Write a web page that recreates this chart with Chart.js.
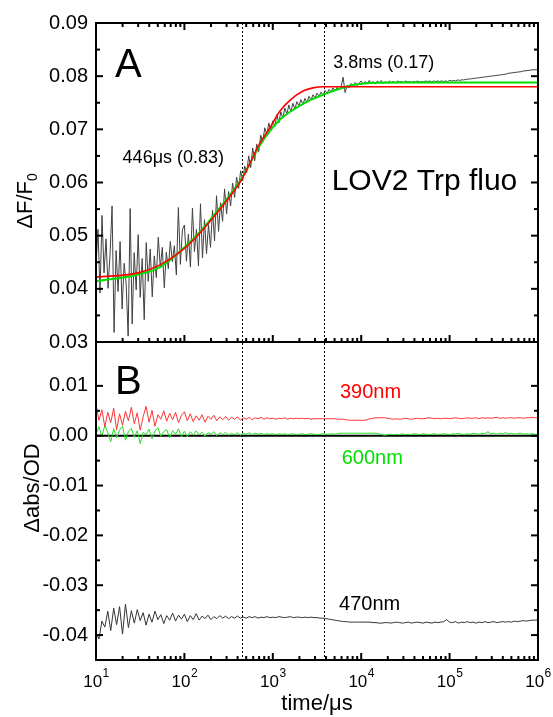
<!DOCTYPE html>
<html>
<head>
<meta charset="utf-8">
<script src="https://cdn.jsdelivr.net/npm/chart.js@4.4.1/dist/chart.umd.min.js"></script>
<style>
  html, body { margin: 0; padding: 0; background: #fff; }
  #wrap { width: 553px; height: 717px; }
</style>
</head>
<body>
<div id="wrap"><canvas id="chart" width="553" height="717"></canvas></div>
<script>
var FONT = "'Liberation Sans', Arial, Helvetica, sans-serif";

/* Panel A: Trp fluorescence dF/F0, log-spaced samples from 10 us to 1 s */
var fluoRaw = [
  0.0445, 0.0512, 0.0392, 0.0538, 0.0430, 0.0494, 0.0401, 0.0466, 0.0556, 0.0318,
  0.0472, 0.0395, 0.0489, 0.0362, 0.0448, 0.0410, 0.0311, 0.0551, 0.0334, 0.0468,
  0.0398, 0.0502, 0.0384, 0.0457, 0.0342, 0.0487, 0.0414, 0.0475, 0.0385, 0.0462,
  0.0421, 0.0497, 0.0440, 0.0478, 0.0402, 0.0469, 0.0438, 0.0489, 0.0451, 0.0481,
  0.0426, 0.0553, 0.0446, 0.0511,
  0.0520, 0.0452, 0.0503, 0.0441, 0.0552, 0.0470, 0.0512, 0.0443, 0.0560, 0.0458,
  0.0530, 0.0466, 0.0521, 0.0478, 0.0548, 0.0490, 0.0575, 0.0508, 0.0562, 0.0527,
  0.0588, 0.0541, 0.0583, 0.0556, 0.0599, 0.0572, 0.0610, 0.0589, 0.0622, 0.0603,
  0.0631, 0.0618, 0.0650, 0.0628, 0.0665, 0.0641, 0.0672, 0.0658, 0.0689, 0.0676,
  0.0703, 0.0690, 0.0712, 0.0698,
  0.0716, 0.0705, 0.0728, 0.0712, 0.0733, 0.0721, 0.0740, 0.0728, 0.0746, 0.0733,
  0.0749, 0.0738, 0.0752, 0.0744, 0.0756, 0.0747, 0.0758, 0.0751, 0.0762, 0.0755,
  0.0765, 0.0759, 0.0768, 0.0762, 0.0770, 0.0764, 0.0773, 0.0768, 0.0775, 0.0771,
  0.0778, 0.0772, 0.0779, 0.0774, 0.0780, 0.0798, 0.0769, 0.0783, 0.0778, 0.0786,
  0.0780, 0.0788, 0.0782, 0.0787,
  0.0791, 0.0785, 0.0790, 0.0786, 0.0792, 0.0787, 0.0790, 0.0785, 0.0791, 0.0788,
  0.0792, 0.0786, 0.0790, 0.0787, 0.0791, 0.0788, 0.0790, 0.0787, 0.0791, 0.0789,
  0.0790, 0.0788, 0.0791, 0.0789, 0.0790, 0.0788, 0.0790, 0.0789, 0.0791, 0.0789,
  0.0790, 0.0789, 0.0791, 0.0790, 0.0791, 0.0789, 0.0791, 0.0790, 0.0791, 0.0790,
  0.0791, 0.0790, 0.0791, 0.0790, 0.0792, 0.0791, 0.0792, 0.0791, 0.0793, 0.0792,
  0.0793, 0.0793, 0.0794, 0.0794, 0.0795, 0.0795, 0.0796, 0.0796, 0.0797, 0.0797,
  0.0798, 0.0798, 0.0799, 0.0799, 0.0800, 0.0800, 0.0801, 0.0801, 0.0802, 0.0802,
  0.0803, 0.0803, 0.0804, 0.0805, 0.0806, 0.0806, 0.0807, 0.0807, 0.0808, 0.0808,
  0.0809, 0.0810, 0.0810, 0.0811, 0.0811, 0.0812, 0.0812, 0.0812, 0.0812
];

/* single-exponential fit (red) */
var fitOneT = [10, 30, 53, 100, 150, 232, 357, 446, 716, 930, 1200, 1570, 2200, 2850, 3700, 1000000];
var fitOneY = [0.0422, 0.0430, 0.0445, 0.0476, 0.0505, 0.0542, 0.0582, 0.0606, 0.0674, 0.0703, 0.0734, 0.0755, 0.0772, 0.0778, 0.0780, 0.0780];

/* bi-exponential fit (green) */
var fitTwoT = [10, 30, 53, 100, 150, 232, 357, 446, 716, 930, 1200, 1570, 2640, 3700, 7460, 12600, 25000, 1000000];
var fitTwoY = [0.0414, 0.0427, 0.0441, 0.0478, 0.0507, 0.0545, 0.0585, 0.0608, 0.0670, 0.0697, 0.0718, 0.0733, 0.0755, 0.0765, 0.0782, 0.0787, 0.0788, 0.0788];

/* Panel B: absorption transients, log-spaced samples from 10 us to 1 s */
var abs390 = [
  0.0062, 0.0031, 0.0052, 0.0018, 0.0047, 0.0026, 0.0055, 0.0012, 0.0044, 0.0021,
  0.0049, 0.0030, 0.0057, 0.0024, 0.0046, 0.0011, 0.0038, 0.0059, 0.0027, 0.0051,
  0.0019, 0.0042, 0.0033, 0.0050, 0.0029, 0.0045, 0.0032, 0.0047, 0.0026, 0.0041,
  0.0048, 0.0030, 0.0044, 0.0028, 0.0040, 0.0031, 0.0042, 0.0027, 0.0039, 0.0033,
  0.0041, 0.0030, 0.0038, 0.0032, 0.0039, 0.0031, 0.0037, 0.0033, 0.0038, 0.0031,
  0.0036, 0.0033, 0.0037, 0.0032, 0.0036, 0.0034, 0.0037, 0.0033, 0.0036, 0.0034,
  0.0035, 0.0033, 0.0035, 0.0034, 0.0036, 0.0033, 0.0035, 0.0034, 0.0035, 0.0034,
  0.0035, 0.0034, 0.0035, 0.0033, 0.0034, 0.0034, 0.0034, 0.0034, 0.0034, 0.0034,
  0.0034, 0.0034, 0.0033, 0.0033, 0.0033, 0.0032, 0.0031, 0.0031, 0.0031, 0.0031,
  0.0031, 0.0031, 0.0032, 0.0034, 0.0035, 0.0036, 0.0036, 0.0036, 0.0036, 0.0035,
  0.0034, 0.0033, 0.0034, 0.0033, 0.0034, 0.0035, 0.0034, 0.0033, 0.0034, 0.0035,
  0.0034, 0.0034, 0.0035, 0.0036, 0.0035, 0.0034, 0.0035, 0.0034, 0.0035, 0.0035,
  0.0034, 0.0035, 0.0036, 0.0035, 0.0034, 0.0035, 0.0036, 0.0035, 0.0035, 0.0036,
  0.0034, 0.0036, 0.0035, 0.0036, 0.0035, 0.0036, 0.0037, 0.0035, 0.0036, 0.0035,
  0.0036, 0.0036, 0.0035, 0.0036, 0.0036, 0.0035, 0.0036, 0.0036, 0.0037, 0.0036,
  0.0036
];
var abs600 = [
  0.0003, 0.0018, -0.0002, 0.0021, 0.0006, -0.0012, 0.0014, -0.0004, 0.0011, 0.0019,
  -0.0009, 0.0008, 0.0015, -0.0003, 0.0010, -0.0016, 0.0007, 0.0002, 0.0013, -0.0006,
  0.0009, 0.0016, -0.0001, 0.0008, 0.0012, -0.0004, 0.0010, 0.0003, 0.0014, -0.0002,
  0.0009, -0.0002, 0.0008, 0.0001, 0.0010, 0.0002, 0.0007, -0.0001, 0.0006, 0.0003,
  0.0008, 0.0000, 0.0006, 0.0002, 0.0007, 0.0001, 0.0005, 0.0002, 0.0006, 0.0001,
  0.0005, 0.0003, 0.0006, 0.0002, 0.0005, 0.0003, 0.0005, 0.0002, 0.0004, 0.0003,
  0.0004, 0.0002, 0.0004, 0.0003, 0.0004, 0.0002, 0.0003, 0.0004, 0.0002, 0.0003,
  0.0004, 0.0002, 0.0003, 0.0004, 0.0003, 0.0002, 0.0003, 0.0004, 0.0003, 0.0003,
  0.0004, 0.0003, 0.0004, 0.0005, 0.0005, 0.0005, 0.0005, 0.0005, 0.0005, 0.0005,
  0.0005, 0.0005, 0.0005, 0.0005, 0.0005, 0.0005, 0.0004, 0.0002, 0.0001, 0.0002,
  0.0003, 0.0002, 0.0003, 0.0002, 0.0004, 0.0002, 0.0003, 0.0002, 0.0004, 0.0003,
  0.0002, 0.0004, 0.0003, 0.0002, 0.0003, 0.0004, 0.0002, 0.0003, 0.0004, 0.0003,
  0.0002, 0.0004, 0.0003, 0.0005, 0.0003, 0.0002, 0.0004, 0.0003, 0.0005, 0.0004,
  0.0003, 0.0005, 0.0004, 0.0008, 0.0004, 0.0005, 0.0003, 0.0005, 0.0004, 0.0006,
  0.0004, 0.0005, 0.0003, 0.0004, 0.0005, 0.0003, 0.0004, 0.0003, 0.0004, 0.0003,
  0.0003
];
var abs470 = [
  -0.0395, -0.0408, -0.0372, -0.0384, -0.0352, -0.0391, -0.0346, -0.0379, -0.0343, -0.0398,
  -0.0338, -0.0385, -0.0351, -0.0376, -0.0349, -0.0371, -0.0355, -0.0380, -0.0358, -0.0374,
  -0.0352, -0.0369, -0.0359, -0.0377, -0.0361, -0.0370, -0.0356, -0.0372, -0.0360, -0.0368,
  -0.0358, -0.0373, -0.0361, -0.0369, -0.0357, -0.0370, -0.0362, -0.0367, -0.0360, -0.0369,
  -0.0363, -0.0367, -0.0361, -0.0366, -0.0362, -0.0367, -0.0363, -0.0366, -0.0362, -0.0366,
  -0.0364, -0.0366, -0.0363, -0.0365, -0.0363, -0.0366, -0.0364, -0.0365, -0.0363, -0.0365,
  -0.0364, -0.0365, -0.0363, -0.0364, -0.0365, -0.0364, -0.0363, -0.0365, -0.0364, -0.0364,
  -0.0365, -0.0364, -0.0365, -0.0364, -0.0365, -0.0365, -0.0366, -0.0366, -0.0367, -0.0368,
  -0.0369, -0.0370, -0.0371, -0.0372, -0.0373, -0.0373, -0.0374, -0.0374, -0.0374, -0.0374,
  -0.0374, -0.0374, -0.0374, -0.0374, -0.0375, -0.0375, -0.0376, -0.0376, -0.0375, -0.0375,
  -0.0376, -0.0375, -0.0374, -0.0375, -0.0376, -0.0375, -0.0374, -0.0376, -0.0375, -0.0374,
  -0.0375, -0.0376, -0.0374, -0.0375, -0.0376, -0.0374, -0.0375, -0.0374, -0.0373, -0.0369,
  -0.0374, -0.0375, -0.0373, -0.0376, -0.0374, -0.0375, -0.0373, -0.0375, -0.0374, -0.0376,
  -0.0374, -0.0375, -0.0373, -0.0375, -0.0374, -0.0373, -0.0375, -0.0374, -0.0373, -0.0374,
  -0.0373, -0.0374, -0.0372, -0.0373, -0.0372, -0.0371, -0.0372, -0.0371, -0.0370, -0.0370,
  -0.0370
];

/* time constants marked with dotted lines (us) */
var tauMarks = [446, 3800];
/* decade exponents for the time axis labels */
var decades = [1, 2, 3, 4, 5, 6];

/* text placed in data coordinates */
var notesA = [
  { text: 'A', t: 16.4, v: 0.0798, size: 40, color: '#000' },
  { text: '446\u03bcs (0.83)', t: 20, v: 0.0636, size: 18, color: '#000' },
  { text: '3.8ms (0.17)', t: 4830, v: 0.0815, size: 18, color: '#000' },
  { text: 'LOV2 Trp fluo', t: 4630, v: 0.0586, size: 30, color: '#000' }
];
var notesB = [
  { text: 'B', t: 16.4, v: 0.0083, size: 40, color: '#000' },
  { text: '390nm', t: 5750, v: 0.0076, size: 20, color: '#ff0000' },
  { text: '600nm', t: 6010, v: -0.0056, size: 20, color: '#00e000' },
  { text: '470nm', t: 5610, v: -0.0349, size: 20, color: '#000' }
];

/* sampling times of a recorded trace, evenly spaced on the log axis */
function logTimes(n) {
  var out = [];
  for (var i = 0; i < n; i++) out.push(Math.pow(10, 1 + 5 * i / (n - 1)));
  return out;
}
function pairs(ts, ys) {
  return ys.map(function (y, i) { return { x: ts[i], y: y }; });
}
function trace(ys) { return pairs(logTimes(ys.length), ys); }

function onStep(v, step) {
  var r = v / step;
  return Math.abs(r - Math.round(r)) < 1e-6;
}
function tickLabel(v) {
  if (!onStep(v, 0.01)) return '';
  if (Math.abs(v) < 1e-9) return '0.00';
  return v.toFixed(2);
}

function drawLine(ctx, x1, y1, x2, y2) {
  ctx.beginPath();
  ctx.moveTo(x1, y1);
  ctx.lineTo(x2, y2);
  ctx.stroke();
}

/* ---- frame, inward ticks, reference lines and labels ---- */
var framePlugin = {
  id: 'frame',
  beforeDatasetsDraw: function (chart) {
    var ctx = chart.ctx, a = chart.chartArea, sx = chart.scales.x, yB = chart.scales.yB;
    ctx.save();
    // zero line in panel B
    ctx.strokeStyle = '#000';
    ctx.lineWidth = 2;
    var y0 = yB.getPixelForValue(0);
    drawLine(ctx, a.left, y0, a.right, y0);
    // dotted lines at the two time constants
    ctx.lineWidth = 1;
    ctx.setLineDash([2, 2]);
    tauMarks.forEach(function (t) {
      var x = Math.round(sx.getPixelForValue(t)) + 0.5;
      drawLine(ctx, x, a.top, x, a.bottom);
    });
    ctx.restore();
  },
  afterDatasetsDraw: function (chart) {
    var ctx = chart.ctx, a = chart.chartArea;
    var sx = chart.scales.x, yA = chart.scales.yA, yB = chart.scales.yB;
    ctx.save();
    ctx.strokeStyle = '#000';
    ctx.lineWidth = 2;
    ctx.strokeRect(a.left, a.top, a.right - a.left, a.bottom - a.top);
    drawLine(ctx, a.left, yA.bottom, a.right, yA.bottom);

    // y ticks on both sides, pointing in
    [yA, yB].forEach(function (s) {
      s.ticks.forEach(function (t) {
        if (!onStep(t.value, 0.005)) return;
        var len = onStep(t.value, 0.01) ? 7 : 4;
        var y = s.getPixelForValue(t.value);
        drawLine(ctx, a.left, y, a.left + len, y);
        drawLine(ctx, a.right, y, a.right - len, y);
      });
    });

    // log ticks: top of A pointing down, bottom of A and B pointing up
    decades.forEach(function (d) {
      for (var k = 1; k <= 9; k++) {
        if (d === 6 && k > 1) break;
        var x = sx.getPixelForValue(k * Math.pow(10, d));
        var len = k === 1 ? 7 : 4;
        drawLine(ctx, x, a.top, x, a.top + len);
        drawLine(ctx, x, yA.bottom, x, yA.bottom - len);
        drawLine(ctx, x, a.bottom, x, a.bottom - len);
      }
    });
    ctx.restore();
  },
  afterDraw: function (chart) {
    var ctx = chart.ctx, a = chart.chartArea;
    var sx = chart.scales.x, yA = chart.scales.yA, yB = chart.scales.yB;
    ctx.save();
    ctx.textBaseline = 'alphabetic';
    ctx.textAlign = 'left';

    function note(n, s) {
      ctx.font = n.size + 'px ' + FONT;
      ctx.fillStyle = n.color;
      ctx.fillText(n.text, sx.getPixelForValue(n.t), s.getPixelForValue(n.v));
    }
    notesA.forEach(function (n) { note(n, yA); });
    notesB.forEach(function (n) { note(n, yB); });

    // 10^n labels under the time axis
    ctx.fillStyle = '#000';
    decades.forEach(function (d) {
      var x = sx.getPixelForValue(Math.pow(10, d));
      ctx.font = '17px ' + FONT;
      var wBase = ctx.measureText('10').width;
      ctx.font = '12px ' + FONT;
      var wExp = ctx.measureText(String(d)).width;
      var x0 = x - (wBase + wExp) / 2;
      ctx.font = '17px ' + FONT;
      ctx.fillText('10', x0, a.bottom + 27);
      ctx.font = '12px ' + FONT;
      ctx.fillText(String(d), x0 + wBase + 0.5, a.bottom + 17);
    });

    // x title
    ctx.font = '22px ' + FONT;
    ctx.textAlign = 'center';
    ctx.fillText('time/\u03bcs', (a.left + a.right) / 2, 710);

    // y titles, rotated
    ctx.save();
    ctx.translate(32, 201);
    ctx.rotate(-Math.PI / 2);
    ctx.textAlign = 'left';
    ctx.font = '22px ' + FONT;
    var wMain = ctx.measureText('\u0394F/F').width;
    ctx.font = '14px ' + FONT;
    var wSub = ctx.measureText('0').width;
    var start = -(wMain + wSub) / 2;
    ctx.font = '22px ' + FONT;
    ctx.fillText('\u0394F/F', start, 0);
    ctx.font = '14px ' + FONT;
    ctx.fillText('0', start + wMain, 5);
    ctx.restore();

    ctx.save();
    ctx.translate(39, 488);
    ctx.rotate(-Math.PI / 2);
    ctx.textAlign = 'center';
    ctx.font = '22px ' + FONT;
    ctx.fillText('\u0394abs/OD', 0, 0);
    ctx.restore();

    ctx.restore();
  }
};

function yScale(min, max, weight) {
  return {
    type: 'linear',
    position: 'left',
    stack: 'panels',
    stackWeight: weight,
    min: min,
    max: max,
    grid: { display: false, drawTicks: false },
    border: { display: false },
    ticks: {
      stepSize: 0.005,
      autoSkip: false,
      padding: 8,
      color: '#000',
      font: { family: FONT, size: 20 },
      callback: tickLabel
    },
    afterFit: function (s) { s.width = 96; }
  };
}

new Chart(document.getElementById('chart'), {
  type: 'line',
  data: {
    datasets: [
      { data: pairs(fitOneT, fitOneY), yAxisID: 'yA', borderColor: '#ff0000', borderWidth: 1.6, cubicInterpolationMode: 'monotone', order: 1 },
      { data: pairs(fitTwoT, fitTwoY), yAxisID: 'yA', borderColor: '#00e000', borderWidth: 2, cubicInterpolationMode: 'monotone', order: 2 },
      { data: trace(fluoRaw), yAxisID: 'yA', borderColor: '#404040', borderWidth: 1, order: 3 },
      { data: trace(abs390), yAxisID: 'yB', borderColor: '#ff3333', borderWidth: 1, order: 4 },
      { data: trace(abs600), yAxisID: 'yB', borderColor: '#22e022', borderWidth: 1, order: 5 },
      { data: trace(abs470), yAxisID: 'yB', borderColor: '#333333', borderWidth: 1, order: 6 }
    ]
  },
  options: {
    responsive: false,
    animation: false,
    devicePixelRatio: 1,
    layout: { padding: { left: 0, right: 15, top: 23, bottom: 0 } },
    elements: { point: { radius: 0 }, line: { tension: 0 } },
    plugins: { legend: { display: false }, tooltip: { enabled: false } },
    scales: {
      x: {
        type: 'logarithmic',
        position: 'bottom',
        min: 10,
        max: 1000000,
        grid: { display: false, drawTicks: false },
        border: { display: false },
        ticks: { display: false },
        afterFit: function (s) { s.height = 57; }
      },
      // the later-listed left axis is stacked on top
      yB: yScale(-0.045, 0.0188, 318),
      yA: yScale(0.03, 0.09, 319)
    }
  },
  plugins: [framePlugin]
});
</script>
</body>
</html>
